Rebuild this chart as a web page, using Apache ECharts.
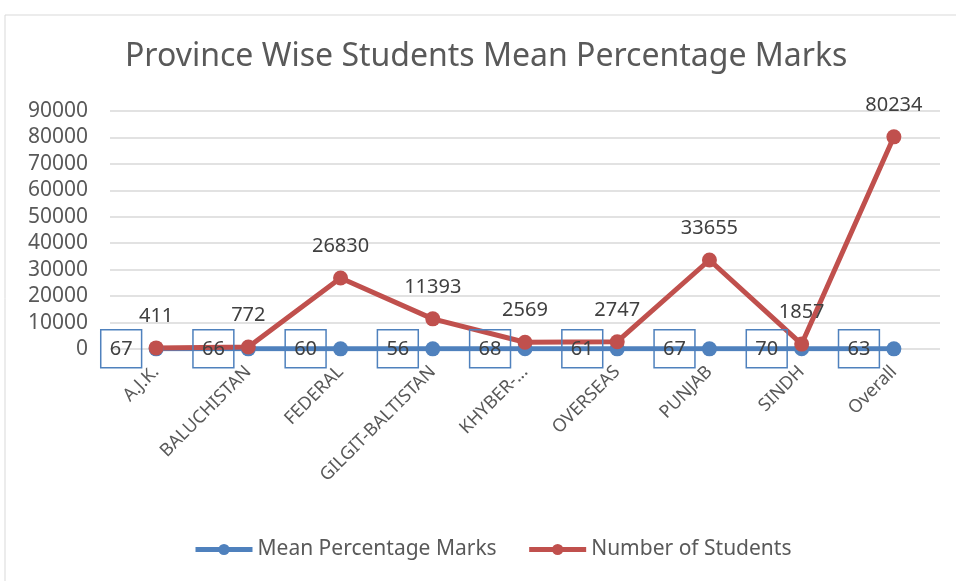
<!DOCTYPE html>
<html>
<head>
<meta charset="utf-8">
<script src="https://cdn.jsdelivr.net/npm/echarts@6/dist/echarts.min.js"></script>
<style>
    html, body { margin: 0; padding: 0; background: #fff; }
    #main { width: 956px; height: 581px; }
</style>
</head>
<body>
<div id="main"></div>
<script>
var categories = ['A.J.K.', 'BALUCHISTAN', 'FEDERAL', 'GILGIT-BALTISTAN', 'KHYBER-...', 'OVERSEAS', 'PUNJAB', 'SINDH', 'Overall'];
var meanMarks = [67, 66, 60, 56, 68, 61, 67, 70, 63];
var numStudents = [411, 772, 26830, 11393, 2569, 2747, 33655, 1857, 80234];

var textColor = '#595959';
var fontName = 'Noto Sans';

var myChart = echarts.init(document.getElementById('main'));
var option = {
    animation: false,
    graphic: [{
        type: 'rect',
        shape: { x: 5, y: 15, width: 960, height: 580 },
        style: { fill: 'none', stroke: '#d9d9d9', lineWidth: 1 }
    }],
    title: {
        text: 'Province Wise Students Mean Percentage Marks',
        left: 120,
        top: 36,
        textStyle: { color: textColor, fontFamily: fontName, fontWeight: 'normal', fontSize: 32 }
    },
    legend: {
        bottom: 16,
        left: 188,
        itemWidth: 57,
        itemHeight: 14,
        itemGap: 30,
        lineStyle: { width: 5 },
        textStyle: { color: textColor, fontFamily: fontName, fontSize: 21 },
        data: ['Mean Percentage Marks', 'Number of Students']
    },
    grid: { left: 110, right: 16, top: 111, bottom: 232, containLabel: false },
    xAxis: {
        type: 'category',
        data: categories,
        boundaryGap: true,
        axisLine: { show: false },
        axisTick: { show: false },
        axisLabel: {
            rotate: 45,
            interval: 0,
            margin: 20,
            color: textColor,
            fontFamily: fontName,
            fontSize: 18
        }
    },
    yAxis: {
        type: 'value',
        min: 0,
        max: 90000,
        interval: 10000,
        axisLine: { show: false },
        axisTick: { show: false },
        splitLine: { lineStyle: { color: '#d9d9d9', width: 1.5 } },
        axisLabel: {
            color: textColor,
            fontFamily: fontName,
            fontSize: 21,
            margin: 22,
            formatter: function (v) { return String(v); }
        }
    },
    series: [{
        name: 'Mean Percentage Marks',
        type: 'line',
        data: meanMarks,
        symbol: 'circle',
        symbolSize: 15,
        color: '#4f81bd',
        lineStyle: { width: 5, color: '#4f81bd' },
        itemStyle: { color: '#4f81bd' },
        label: {
            show: true,
            position: 'left',
            distance: 7,
            color: '#404040',
            fontFamily: fontName,
            fontSize: 20,
            borderColor: '#4f81bd',
            borderWidth: 1.5,
            padding: [8, 9, 8, 9],
            lineHeight: 22
        }
    }, {
        name: 'Number of Students',
        type: 'line',
        data: numStudents,
        symbol: 'circle',
        symbolSize: 15,
        color: '#c0504d',
        lineStyle: { width: 5, color: '#c0504d' },
        itemStyle: { color: '#c0504d' },
        label: {
            show: true,
            position: 'top',
            distance: 14,
            color: '#404040',
            fontFamily: fontName,
            fontSize: 20
        }
    }]
};
myChart.setOption(option);
</script>
</body>
</html>
